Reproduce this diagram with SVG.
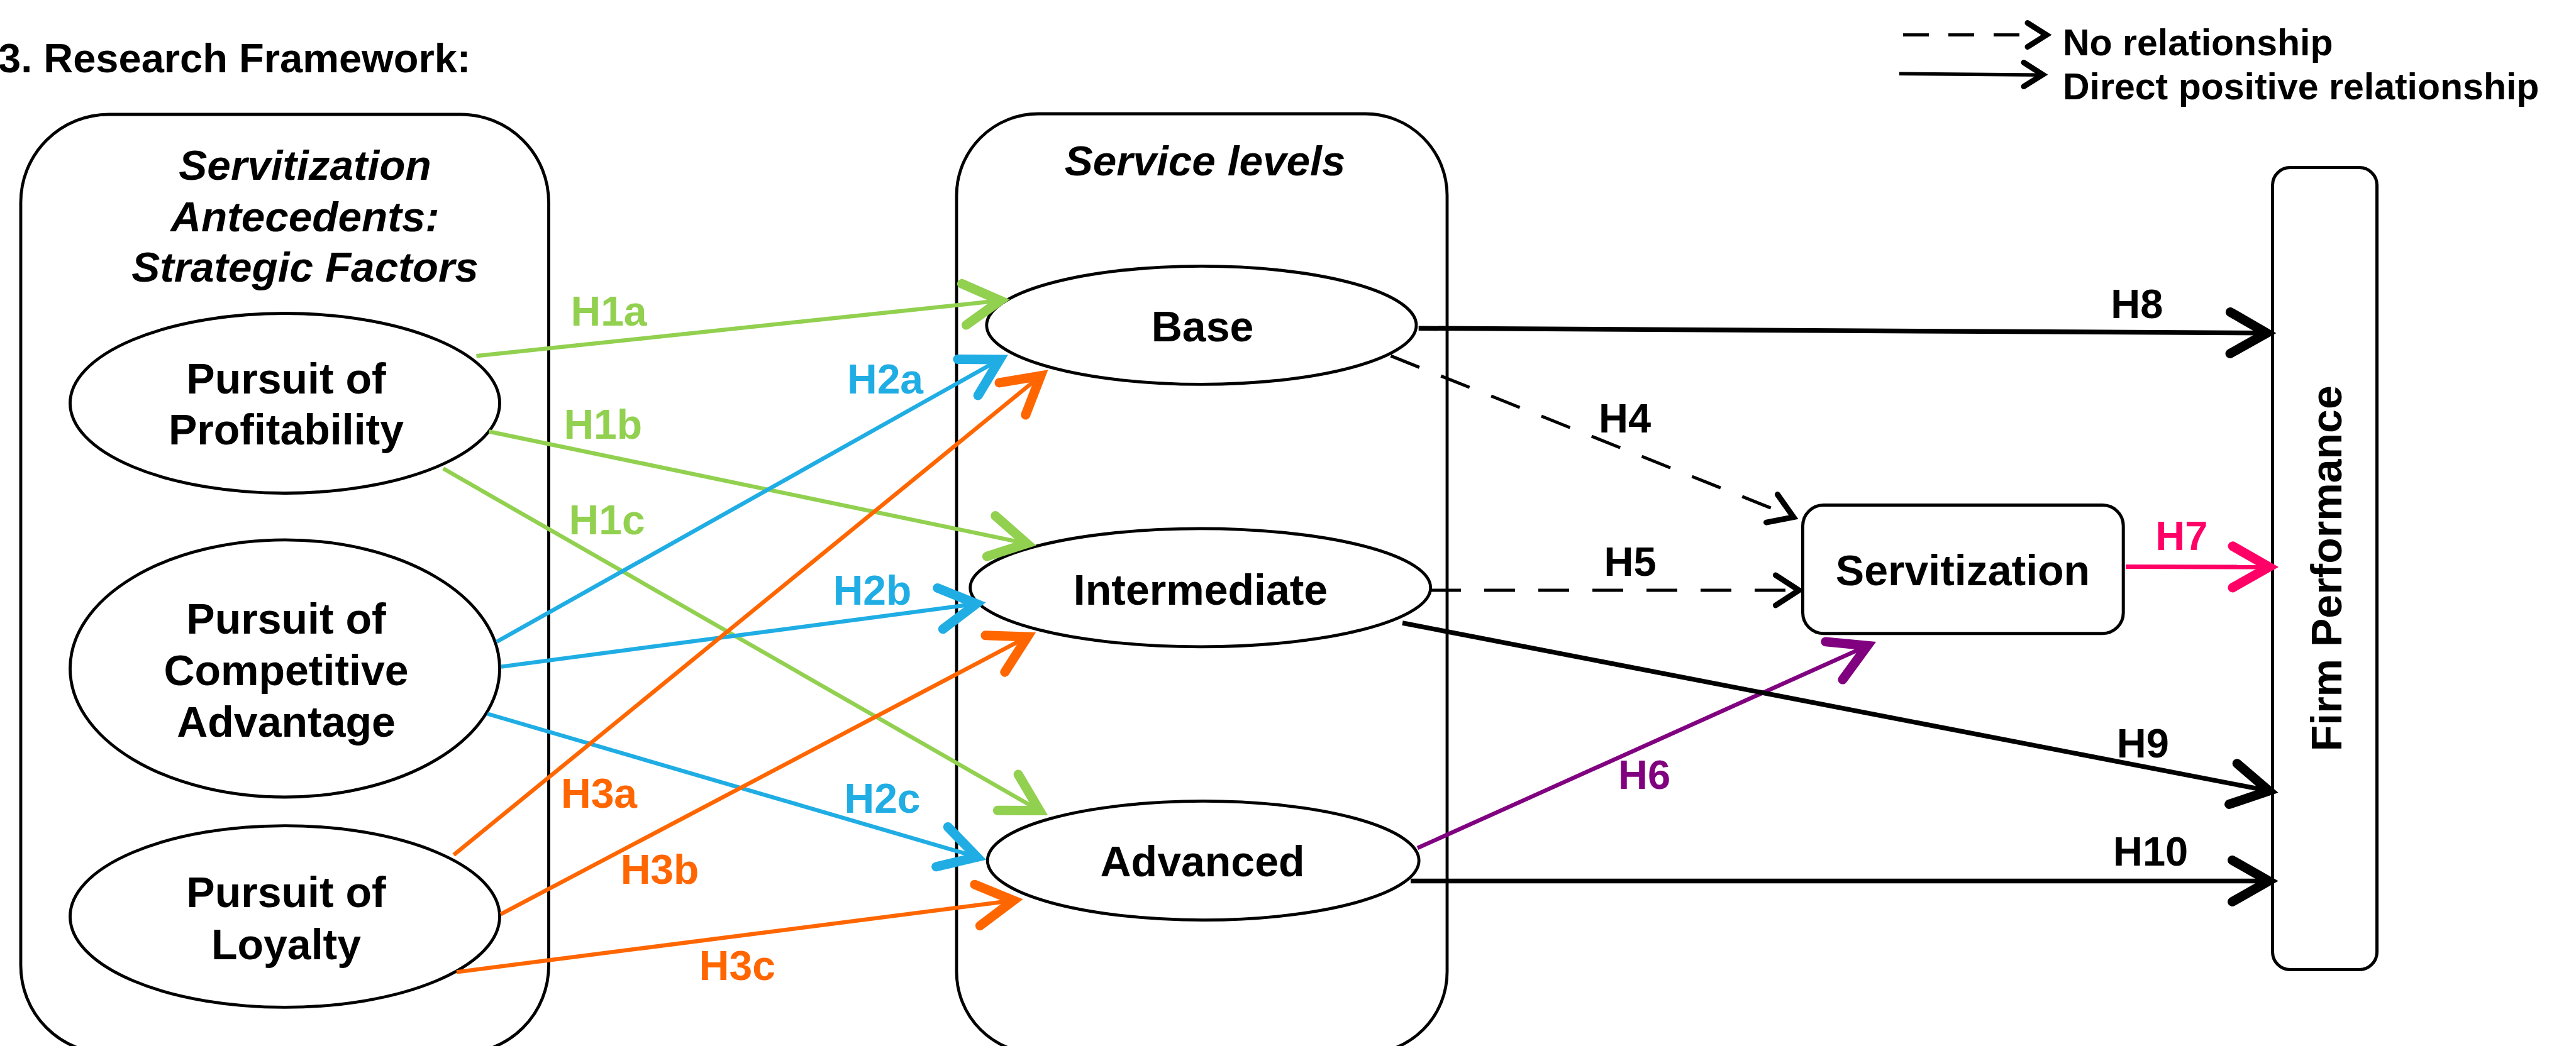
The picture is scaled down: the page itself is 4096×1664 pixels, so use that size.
<svg xmlns="http://www.w3.org/2000/svg" width="4096" height="1664" viewBox="0 0 4096 1664">
<style>
text { font-family: "Liberation Sans", Arial, sans-serif; font-weight: bold; fill: #000; }
.node-t { font-size: 68px; text-anchor: middle; }
.hdr { font-size: 67.5px; font-style: italic; text-anchor: middle; }
.box { fill: none; stroke: #000; stroke-width: 4.8; }
.ell { fill: #fff; stroke: #000; stroke-width: 4.8; }
.lbl { font-size: 66px; }
.blbl { font-size: 65px; }
.leg { font-size: 59px; }
.cg { stroke: #92D050; stroke-width: 6.5; fill: none; }
.cb { stroke: #1FADE4; stroke-width: 6.5; fill: none; }
.co { stroke: #FF6600; stroke-width: 6.5; fill: none; }
.cp { stroke: #800080; stroke-width: 6.5; fill: none; }
.ck { stroke: #FF0066; stroke-width: 7; fill: none; }
.cs { stroke: #000; stroke-width: 7.5; fill: none; }
.cd { stroke: #000; stroke-width: 5; fill: none; stroke-dasharray: 49 37; }
.head { fill: none; stroke-width: 15; stroke-linecap: round; stroke-linejoin: miter; }
.head-thin { fill: none; stroke: #000; stroke-width: 9; stroke-linecap: round; stroke-linejoin: miter; }
</style>
<defs>
<marker id="m-green" markerUnits="userSpaceOnUse" markerWidth="10" markerHeight="10" refX="0" refY="0" orient="auto" style="overflow:visible"><path class="head" stroke="#92D050" d="M-58,-33 L0,0 L-58,33"/></marker>
<marker id="m-blue" markerUnits="userSpaceOnUse" markerWidth="10" markerHeight="10" refX="0" refY="0" orient="auto" style="overflow:visible"><path class="head" stroke="#1FADE4" d="M-58,-33 L0,0 L-58,33"/></marker>
<marker id="m-orange" markerUnits="userSpaceOnUse" markerWidth="10" markerHeight="10" refX="0" refY="0" orient="auto" style="overflow:visible"><path class="head" stroke="#FF6600" d="M-58,-33 L0,0 L-58,33"/></marker>
<marker id="m-purple" markerUnits="userSpaceOnUse" markerWidth="10" markerHeight="10" refX="0" refY="0" orient="auto" style="overflow:visible"><path class="head" stroke="#800080" d="M-58,-33 L0,0 L-58,33"/></marker>
<marker id="m-pink" markerUnits="userSpaceOnUse" markerWidth="10" markerHeight="10" refX="0" refY="0" orient="auto" style="overflow:visible"><path class="head" stroke="#FF0066" d="M-58,-33 L0,0 L-58,33"/></marker>
<marker id="m-black" markerUnits="userSpaceOnUse" markerWidth="10" markerHeight="10" refX="0" refY="0" orient="auto" style="overflow:visible"><path class="head" stroke="#000" d="M-58,-33 L0,0 L-58,33"/></marker>
<marker id="m-thin" markerUnits="userSpaceOnUse" markerWidth="10" markerHeight="10" refX="0" refY="0" orient="auto" style="overflow:visible"><path class="head-thin" d="M-37,-24 L0,0 L-37,24"/></marker>
</defs>
<rect width="4096" height="1664" fill="#fff"/>

<g id="title"><text x="-3" y="115" font-size="65">3. Research Framework:</text></g>

<g id="legend">
<line x1="3026" y1="55.6" x2="3212" y2="55.6" stroke="#000" stroke-width="5" stroke-dasharray="41 31"/>
<polyline class="head-thin" points="3224,36.5 3254,55.6 3224,74.5"/>
<line x1="3020" y1="117.2" x2="3248" y2="119.2" stroke="#000" stroke-width="5.5"/>
<polyline class="head-thin" points="3218,99.5 3248,118.8 3218,137.5"/>
<text class="leg" x="3280" y="87.5">No relationship</text>
<text class="leg" x="3280" y="158">Direct positive relationship</text>
</g>

<g id="antecedents">
<rect class="box" x="33" y="182" width="839.5" height="1494" rx="140" ry="140"/>
<text class="hdr" x="485" y="286">Servitization</text>
<text class="hdr" x="485" y="368">Antecedents:</text>
<text class="hdr" x="485" y="448">Strategic Factors</text>
</g>

<g id="profitability">
<ellipse class="ell" cx="453" cy="641.5" rx="341.5" ry="143"/>
<text class="node-t" x="455" y="625.5">Pursuit of</text>
<text class="node-t" x="455" y="706.7">Profitability</text>
</g>

<g id="competitive-advantage">
<ellipse class="ell" cx="453" cy="1063.4" rx="341.5" ry="204.6"/>
<text class="node-t" x="455" y="1007.5">Pursuit of</text>
<text class="node-t" x="455" y="1090">Competitive</text>
<text class="node-t" x="455" y="1171.5">Advantage</text>
</g>

<g id="loyalty">
<ellipse class="ell" cx="453" cy="1458" rx="341.5" ry="144.4"/>
<text class="node-t" x="455" y="1442.5">Pursuit of</text>
<text class="node-t" x="455" y="1525.5">Loyalty</text>
</g>

<g id="service-levels">
<rect class="box" x="1521" y="181" width="780" height="1495" rx="130" ry="130"/>
<text class="hdr" x="1916" y="279">Service levels</text>
</g>

<g id="base">
<ellipse class="ell" cx="1910.4" cy="517.4" rx="341.6" ry="94"/>
<text class="node-t" x="1912" y="543">Base</text>
</g>

<g id="intermediate">
<ellipse class="ell" cx="1908.7" cy="934.9" rx="366" ry="94"/>
<text class="node-t" x="1909" y="962">Intermediate</text>
</g>

<g id="advanced">
<ellipse class="ell" cx="1913.2" cy="1369" rx="343" ry="94.6"/>
<text class="node-t" x="1912" y="1394">Advanced</text>
</g>

<g id="servitization">
<rect x="2866.5" y="803.5" width="509.7" height="204.2" rx="33" ry="33" fill="#fff" stroke="#000" stroke-width="5"/>
<text class="node-t" x="3121" y="931">Servitization</text>
</g>

<g id="firm-performance">
<rect x="3613.5" y="266.5" width="166" height="1276" rx="28" ry="28" fill="#fff" stroke="#000" stroke-width="5"/>
<text class="node-t" transform="translate(3722.5,904.3) rotate(-90)" x="0" y="0">Firm Performance</text>
</g>

<g id="connectors">
<line class="cg" x1="757.5" y1="566.3" x2="1590.6" y2="478.1" marker-end="url(#m-green)"/>
<line class="cg" x1="777.6" y1="686.5" x2="1632.8" y2="864.7" marker-end="url(#m-green)"/>
<line class="cg" x1="704.7" y1="745.3" x2="1653" y2="1289.5" marker-end="url(#m-green)"/>
<line class="cb" x1="789.7" y1="1021" x2="1589.6" y2="571.9" marker-end="url(#m-blue)"/>
<line class="cb" x1="797" y1="1060.6" x2="1552.5" y2="960.5" marker-end="url(#m-blue)"/>
<line class="cb" x1="775" y1="1135.5" x2="1553.6" y2="1363.4" marker-end="url(#m-blue)"/>
<line class="co" x1="721.5" y1="1360" x2="1654.8" y2="597.8" marker-end="url(#m-orange)"/>
<line class="co" x1="796.2" y1="1454.3" x2="1633.7" y2="1013" marker-end="url(#m-orange)"/>
<line class="co" x1="726" y1="1546.4" x2="1611.6" y2="1432.5" marker-end="url(#m-orange)"/>
<line class="cd" x1="2211.4" y1="566.1" x2="2851.8" y2="822.6" marker-end="url(#m-thin)"/>
<line class="cd" x1="2274" y1="939" x2="2860.4" y2="939" marker-end="url(#m-thin)"/>
<line class="cp" x1="2254" y1="1349" x2="2969.3" y2="1027.2" marker-end="url(#m-purple)"/>
<line class="ck" x1="3380" y1="901.5" x2="3608" y2="902" marker-end="url(#m-pink)"/>
<line class="cs" x1="2255.7" y1="522.2" x2="3604.2" y2="529.8" marker-end="url(#m-black)"/>
<line class="cs" x1="2230" y1="991" x2="3607.8" y2="1258.1" marker-end="url(#m-black)"/>
<line class="cs" x1="2243" y1="1401.5" x2="3607.5" y2="1401.5" marker-end="url(#m-black)"/>

<text class="lbl" x="907.5" y="518" style="fill:#92D050">H1a</text>
<text class="lbl" x="896.4" y="698" style="fill:#92D050">H1b</text>
<text class="lbl" x="904.6" y="849.5" style="fill:#92D050">H1c</text>
<text class="lbl" x="1347" y="626" style="fill:#1FADE4">H2a</text>
<text class="lbl" x="1324.7" y="961.5" style="fill:#1FADE4">H2b</text>
<text class="lbl" x="1342.5" y="1293" style="fill:#1FADE4">H2c</text>
<text class="lbl" x="892" y="1284.7" style="fill:#FF6600">H3a</text>
<text class="lbl" x="986.7" y="1405.8" style="fill:#FF6600">H3b</text>
<text class="lbl" x="1111.8" y="1558.8" style="fill:#FF6600">H3c</text>
<text class="blbl" x="2542" y="688">H4</text>
<text class="blbl" x="2550.6" y="916">H5</text>
<text class="blbl" x="2573" y="1255" style="fill:#800080">H6</text>
<text class="blbl" x="3427.2" y="874.5" style="fill:#FF0066">H7</text>
<text class="blbl" x="3356.3" y="505.5">H8</text>
<text class="blbl" x="3365.8" y="1205">H9</text>
<text class="blbl" x="3360" y="1377.2">H10</text>
</g>
</svg>
